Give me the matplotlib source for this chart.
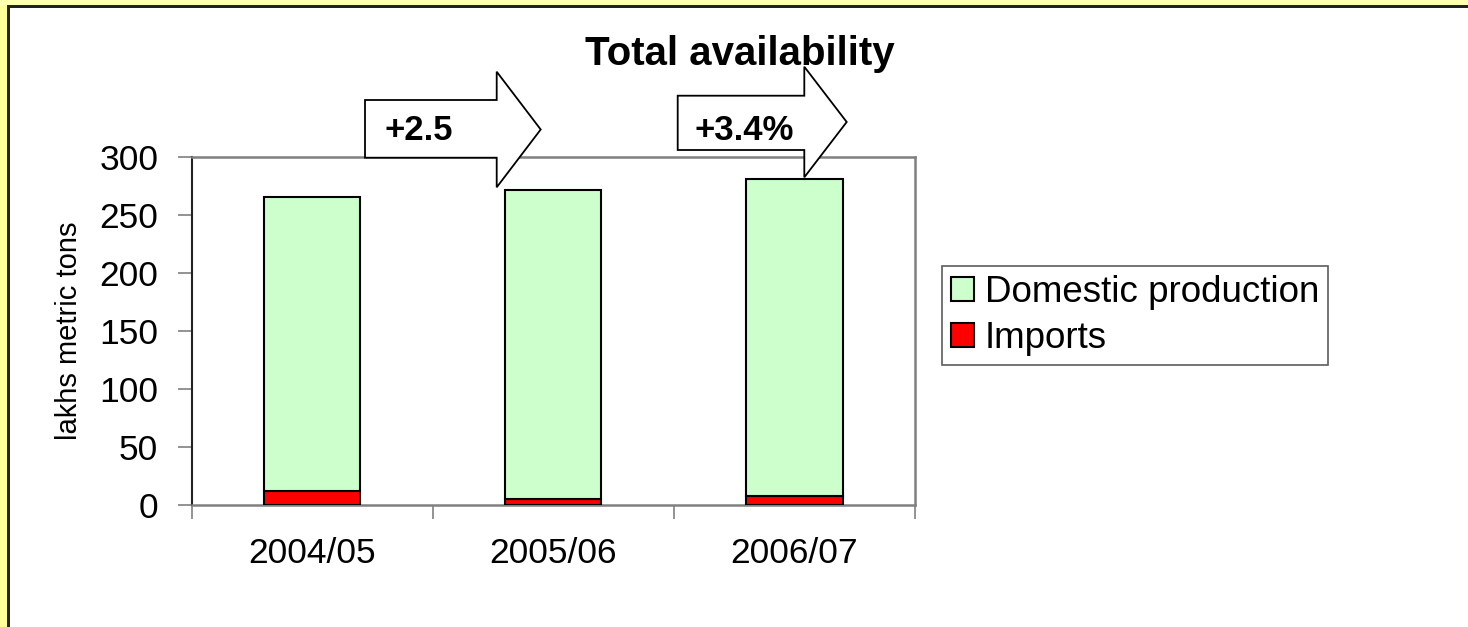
import matplotlib
matplotlib.use("Agg")
import matplotlib.pyplot as plt
from matplotlib.patches import Polygon, Rectangle

# ---------------------------------------------------------------------------
# Data (lakhs metric tons)
# ---------------------------------------------------------------------------
years    = ["2004/05", "2005/06", "2006/07"]
imports  = [12.0, 5.5, 7.5]
domestic = [253.0, 266.0, 273.5]
growth_labels = ["+2.5", "+3.4%"]

GREEN = "#CCFFCC"
RED   = "#FF0000"
GREY  = "#808080"

plt.rcParams["font.family"] = ["Liberation Sans", "DejaVu Sans"]

W, H = 1468, 627
fig = plt.figure(figsize=(W / 100, H / 100), dpi=100)
fig.patch.set_facecolor("white")


def px(x, y):
    """pixel position (from top-left) -> figure fraction"""
    return x / W, 1 - y / H


# outer frame: yellow band with a dark inner line (left and top)
for (x0, y0, w, h, c) in [(0, 0, 7, H, "#FFFF99"), (0, 0, W, 5, "#FFFFB0"),
                          (7, 5, 3, H, "#222222"), (7, 5, W, 3, "#222222")]:
    fx, fy = px(x0, y0 + h)
    fig.patches.append(Rectangle((fx, fy), w / W, h / H, transform=fig.transFigure,
                                 facecolor=c, edgecolor="none", zorder=0))

# plot area
l, r, t, b = 191.5, 915, 156.7, 505
ax = fig.add_axes([l / W, 1 - b / H, (r - l) / W, (b - t) / H])

xpos = range(len(years))
ax.bar(xpos, imports, width=0.4, color=RED, edgecolor="black", linewidth=1.5,
       label="Imports", zorder=3)
ax.bar(xpos, domestic, width=0.4, bottom=imports, color=GREEN,
       edgecolor="black", linewidth=1.5, label="Domestic production", zorder=3)

ax.set_xlim(-0.5, len(years) - 0.5)
ax.set_ylim(0, 300)
ax.set_yticks(range(0, 301, 50))
ax.set_xticks([i - 0.5 for i in range(len(years) + 1)])
ax.set_xticklabels([])
ax.set_xticks(list(xpos), minor=True)
ax.set_xticklabels(years, minor=True, fontsize=25.5)
ax.tick_params(axis="x", which="minor", length=0, pad=23)
ax.tick_params(axis="x", which="major", length=10, width=1.2, color=GREY,
               direction="out")
ax.tick_params(axis="y", length=10, width=1.2, color=GREY, labelsize=25.5, pad=14)

for side in ["top", "right", "bottom"]:
    ax.spines[side].set_color(GREY)
    ax.spines[side].set_linewidth(1.8)
ax.spines["left"].set_color("#222222")
ax.spines["left"].set_linewidth(1.5)

ax.set_ylabel("lakhs metric tons", fontsize=21)
ax.yaxis.set_label_coords(-0.150, 0.5)

# legend (Domestic first)
handles, labels = ax.get_legend_handles_labels()
leg = fig.legend(handles[::-1], labels[::-1], loc="upper left",
                 bbox_to_anchor=px(941.7, 266), bbox_transform=fig.transFigure,
                 borderaxespad=0, fontsize=26.5, frameon=True, fancybox=False,
                 handlelength=0.62, handleheight=0.62, handletextpad=0.3,
                 labelspacing=0.3, borderpad=0.25)
leg.get_frame().set_edgecolor("#333333")
leg.get_frame().set_linewidth(1.2)

# title
fig.text(*px(585, 65), "Total availability", fontsize=29, fontweight="bold",
         ha="left", va="baseline")

# block arrows with growth labels
arrows = [
    dict(x0=365, x1=496.7, bt=100, bb=157.7, ht=71.7, hb=187.3, tip=540.7,
         tx=385, ty=130),
    dict(x0=677.7, x1=804.3, bt=95.7, bb=150, ht=66.7, hb=177.3, tip=846.7,
         tx=695, ty=131),
]
for a, lab in zip(arrows, growth_labels):
    pts = [(a["x0"], a["bt"]), (a["x1"], a["bt"]), (a["x1"], a["ht"]),
           (a["tip"], (a["ht"] + a["hb"]) / 2), (a["x1"], a["hb"]),
           (a["x1"], a["bb"]), (a["x0"], a["bb"])]
    fig.patches.append(Polygon([px(*p) for p in pts], closed=True,
                               transform=fig.transFigure, facecolor="white",
                               edgecolor="black", linewidth=1.3, zorder=5))
    fig.text(*px(a["tx"], a["ty"]), lab, fontsize=25, fontweight="bold",
             ha="left", va="center", zorder=6)

fig.savefig("out.png", dpi=100)
